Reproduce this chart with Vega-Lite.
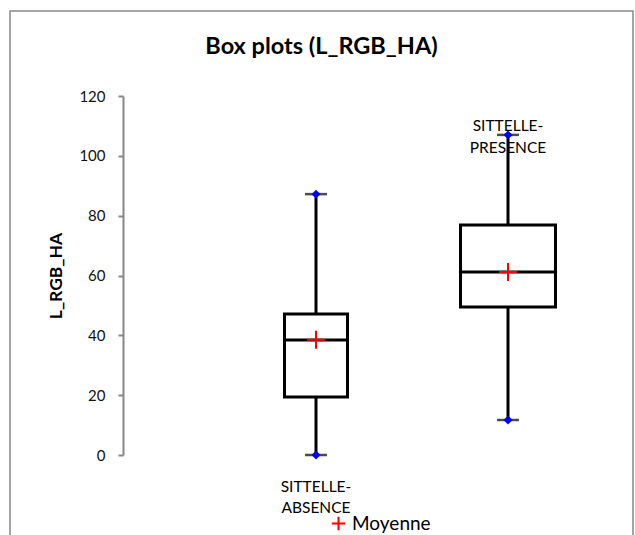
{
  "$schema": "https://vega.github.io/schema/vega-lite/v6.json",
  "width": 623,
  "height": 540,
  "autosize": "none",
  "padding": {"left": 10, "top": 11, "right": 2, "bottom": 0},
  "background": "white",
  "title": {"text": "Box plots (L_RGB_HA)", "font": "Lato", "fontSize": 23.5, "fontWeight": "bold", "color": "black", "anchor": "middle", "frame": "group", "orient": "top", "offset": 0, "dy": 47},
  "config": {"view": {"stroke": "#888888", "strokeWidth": 1.5}, "font": "Lato"},
  "data": {
    "values": [
      {"group": "SITTELLE-ABSENCE", "label": "SITTELLE-\nABSENCE", "min": 0, "q1": 19.4, "median": 38.4, "q3": 47.1, "max": 87.2, "mean": 38.5},
      {"group": "SITTELLE-PRESENCE", "label": "SITTELLE-\nPRESENCE", "min": 11.7, "q1": 49.5, "median": 61.2, "q3": 76.9, "max": 107, "mean": 61.2}
    ]
  },
  "encoding": {
    "x": {"field": "group", "type": "nominal", "scale": {"type": "point", "domain": ["SITTELLE-ABSENCE", "SITTELLE-PRESENCE"], "range": [306, 498], "padding": 0}, "axis": null}
  },
  "layer": [
    {
      "mark": {"type": "rule", "color": "black", "strokeWidth": 3},
      "encoding": {
        "y": {"field": "min", "type": "quantitative", "scale": {"domain": [0, 120], "range": [444, 85]},
          "axis": {"title": "L_RGB_HA", "titleFont": "Lato", "titleFontSize": 17.5, "titleFontWeight": "bold", "titleColor": "black", "titlePadding": 13, "offset": -113, "grid": false, "domainColor": "#888888", "domainWidth": 2, "tickColor": "#888888", "tickWidth": 2, "tickSize": 5, "labelFont": "Lato", "labelFontSize": 15, "labelColor": "#111111", "labelPadding": 13, "values": [0, 20, 40, 60, 80, 100, 120]}},
        "y2": {"field": "max"}
      }
    },
    {
      "mark": {"type": "tick", "orient": "horizontal", "color": "black", "thickness": 2.5, "size": 22},
      "encoding": {"y": {"field": "min", "type": "quantitative"}}
    },
    {
      "mark": {"type": "tick", "orient": "horizontal", "color": "black", "thickness": 2.5, "size": 22},
      "encoding": {"y": {"field": "max", "type": "quantitative"}}
    },
    {
      "transform": [{"filter": "datum.group == 'SITTELLE-ABSENCE'"}],
      "mark": {"type": "bar", "fill": "white", "stroke": "black", "strokeWidth": 3, "size": 63},
      "encoding": {"y": {"field": "q1", "type": "quantitative"}, "y2": {"field": "q3"}}
    },
    {
      "transform": [{"filter": "datum.group == 'SITTELLE-PRESENCE'"}],
      "mark": {"type": "bar", "fill": "white", "stroke": "black", "strokeWidth": 3, "size": 95},
      "encoding": {"y": {"field": "q1", "type": "quantitative"}, "y2": {"field": "q3"}}
    },
    {
      "transform": [{"filter": "datum.group == 'SITTELLE-ABSENCE'"}],
      "mark": {"type": "tick", "orient": "horizontal", "color": "black", "thickness": 3, "size": 64, "opacity": 1},
      "encoding": {"y": {"field": "median", "type": "quantitative"}}
    },
    {
      "transform": [{"filter": "datum.group == 'SITTELLE-PRESENCE'"}],
      "mark": {"type": "tick", "orient": "horizontal", "color": "black", "thickness": 3, "size": 96, "opacity": 1},
      "encoding": {"y": {"field": "median", "type": "quantitative"}}
    },
    {
      "mark": {"type": "point", "shape": "diamond", "filled": true, "color": "#0000ff", "size": 80, "opacity": 1},
      "encoding": {"y": {"field": "min", "type": "quantitative"}}
    },
    {
      "mark": {"type": "point", "shape": "diamond", "filled": true, "color": "#0000ff", "size": 80, "opacity": 1},
      "encoding": {"y": {"field": "max", "type": "quantitative"}}
    },
    {
      "mark": {"type": "point", "shape": "M-1,0H1M0,-1V1", "filled": false, "strokeWidth": 2, "size": 324, "opacity": 1},
      "encoding": {
        "y": {"field": "mean", "type": "quantitative"},
        "color": {"datum": "Moyenne", "type": "nominal", "scale": {"range": ["#ff0000"]},
          "legend": {"title": null, "orient": "none", "legendX": 319, "legendY": 503, "labelFont": "Lato", "labelFontSize": 19, "labelColor": "black", "symbolType": "M-1,0H1M0,-1V1", "symbolSize": 180, "symbolStrokeWidth": 2, "symbolStrokeColor": "#ff0000", "labelOffset": 4}}
      }
    },
    {
      "transform": [{"filter": "datum.group == 'SITTELLE-ABSENCE'"}],
      "mark": {"type": "text", "lineBreak": "\n", "baseline": "top", "align": "center", "dy": 25, "fontSize": 15.5, "lineHeight": 21, "color": "black", "font": "Lato"},
      "encoding": {"y": {"field": "min", "type": "quantitative"}, "text": {"field": "label"}}
    },
    {
      "transform": [{"filter": "datum.group == 'SITTELLE-PRESENCE'"}],
      "mark": {"type": "text", "lineBreak": "\n", "baseline": "top", "align": "center", "dy": -16, "fontSize": 15.5, "lineHeight": 22, "color": "black", "font": "Lato"},
      "encoding": {"y": {"field": "max", "type": "quantitative"}, "text": {"field": "label"}}
    }
  ]
}
